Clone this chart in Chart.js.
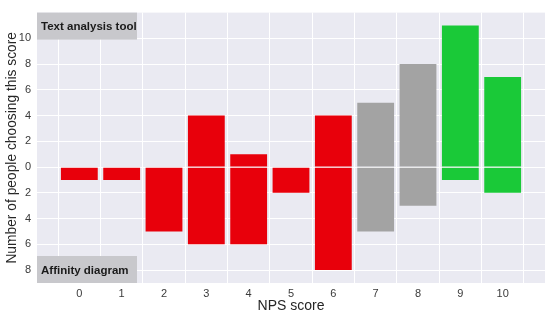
<!DOCTYPE html>
<html><head><meta charset="utf-8">
<script src="https://cdn.jsdelivr.net/npm/chart.js@4.4.1/dist/chart.umd.min.js"></script>
<style>html,body{margin:0;padding:0;background:#fff}#w{width:550px;height:315px}</style>
</head><body><div id="w"><canvas id="c" width="550" height="315"></canvas></div>
<script>
const scores = [0,1,2,3,4,5,6,7,8,9,10];
const textTool = [0,0,0,4,1,0,4,5,8,11,7];      // above zero
const affinity = [1,1,5,6,6,2,8,5,3,1,2];        // below zero
const yTicks = [-8,-6,-4,-2,0,2,4,6,8,10];
const topLabel = 'Text analysis tool';
const bottomLabel = 'Affinity diagram';

function colorFor(s){ return s <= 6 ? '#E8000B' : (s <= 8 ? '#A3A3A3' : '#1AC938'); }
const FONT = "'Liberation Sans', Arial, sans-serif";

const bgPlugin = {
  id:'bg',
  beforeDraw(chart){
    const {ctx, chartArea:a} = chart;
    ctx.save(); ctx.fillStyle='#EAEAF2';
    ctx.fillRect(a.left,a.top,a.right-a.left,a.bottom-a.top); ctx.restore();
  },
  afterDatasetsDraw(chart){
    const {ctx, chartArea:a, scales} = chart;
    const y0 = Math.round(scales.y.getPixelForValue(0))+0.5;
    ctx.save(); ctx.strokeStyle='rgba(255,255,255,0.55)'; ctx.lineWidth=1;
    ctx.beginPath(); ctx.moveTo(a.left,y0); ctx.lineTo(a.right,y0); ctx.stroke();
    // label boxes
    const bw = 100, bh = 27;
    ctx.fillStyle='#C8C8CC';
    ctx.fillRect(a.left, a.top, bw, bh);
    ctx.fillRect(a.left, a.bottom-bh, bw, bh);
    ctx.fillStyle='#1a1a1a'; ctx.font = "bold 11.5px " + FONT;
    ctx.textBaseline='middle'; ctx.textAlign='left';
    ctx.fillText(topLabel, a.left+4, a.top+bh/2+1);
    ctx.fillText(bottomLabel, a.left+4, a.bottom-bh/2+1);
    ctx.restore();
  }
};

new Chart(document.getElementById('c'), {
  type:'bar',
  data:{
    datasets:[
      { label:topLabel, data: scores.map((s,i)=>({x:s, y:[0,textTool[i]]})),
        backgroundColor: scores.map(colorFor), borderWidth:0,
        borderSkipped:false, grouped:false, barPercentage:0.87, categoryPercentage:1 },
      { label:bottomLabel, data: scores.map((s,i)=>({x:s, y:[-affinity[i],0]})),
        backgroundColor: scores.map(colorFor), borderWidth:0,
        borderSkipped:false, grouped:false, barPercentage:0.87, categoryPercentage:1 }
    ]
  },
  options:{
    responsive:false, animation:false, devicePixelRatio:1,
    layout:{padding:{top:5,right:5,left:0,bottom:0}},
    plugins:{legend:{display:false}, tooltip:{enabled:false}},
    scales:{
      x:{ type:'linear', min:-1, max:11, offset:false,
        afterBuildTicks(ax){ ax.ticks = scores.map(v=>({value:v})); },
        afterFit(ax){ ax.height = 32; },
        grid:{color:'#ffffff', lineWidth:1, drawTicks:false},
        border:{display:false},
        ticks:{color:'#3a3a3a', font:{family:FONT,size:11}, padding:4, maxRotation:0, autoSkip:false},
        title:{display:true, text:'NPS score', color:'#262626', font:{family:FONT,size:14}, padding:{top:0,bottom:0}}
      },
      y:{ type:'linear', min:-9, max:12,
        afterBuildTicks(ax){ ax.ticks = yTicks.map(v=>({value:v})); },
        afterFit(ax){ ax.width = 37; },
        grid:{color:'#ffffff', lineWidth:1, drawTicks:false},
        border:{display:false},
        ticks:{color:'#3a3a3a', font:{family:FONT,size:11}, padding:6, callback:v=>String(Math.abs(v))},
        title:{display:true, text:'Number of people choosing this score', color:'#262626', font:{family:FONT,size:13.8}, padding:{top:4,bottom:0}}
      }
    }
  },
  plugins:[bgPlugin]
});
</script></body></html>
